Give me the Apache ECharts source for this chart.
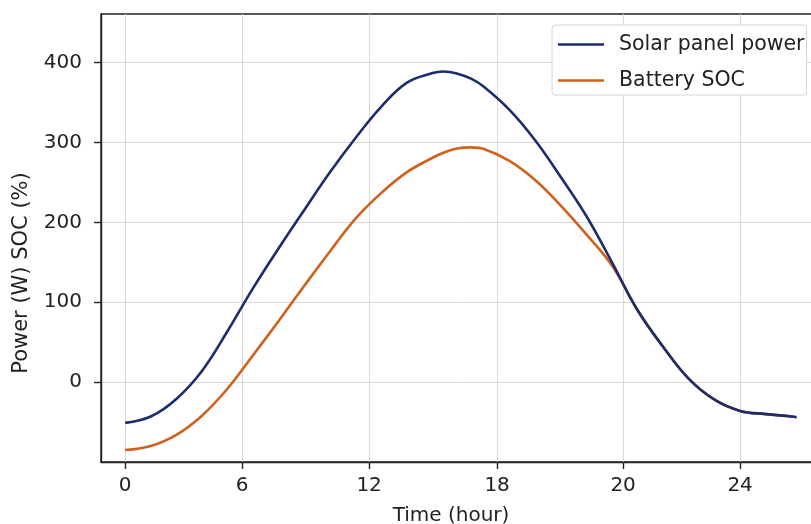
<!DOCTYPE html>
<html>
<head>
<meta charset="utf-8">
<script src="https://cdn.jsdelivr.net/npm/echarts@6/dist/echarts.min.js"></script>
<style>
  html, body { margin: 0; padding: 0; background: #fff; }
  #chart { width: 811px; height: 524px; }
</style>
</head>
<body>
<div id="chart"></div>
<script>
// time positions (axis units)
var timeU = [0, 1, 2, 3, 4, 5, 6, 7, 8, 9, 10, 11, 12, 12.4, 13, 13.5, 14, 15, 16, 17, 18, 19, 20, 21, 22, 23, 24, 25, 26, 26.2]
var solarPower = [-51, -43, -21, 14, 64, 118, 168, 216, 263, 306, 345, 375, 387, 389, 386, 380, 370, 341, 303, 257, 208, 150, 90, 44, 4, -22, -36, -40, -43, -44]
var batterySoc = [-85, -80, -66, -42, -8, 34, 77, 121, 164, 205, 237, 263, 281, 287, 293, 294, 292, 277, 253, 221, 185, 146, 90, 44, 4, -22, -36, -40, -43, -44]

// x ticks sit at uneven spots in the figure
var xTickPos = [0, 4.566, 9.522, 14.517, 19.434, 24]
var xTickLabels = ['0', '6', '12', '18', '20', '24']
var yTicks = [0, 100, 200, 300, 400]

function pairs(xs, ys) {
    var out = []
    for (var i = 0; i < xs.length; i++) {
        out.push([xs[i], ys[i]])
    }
    return out
}

var chart = echarts.init(document.getElementById('chart'))
var font = 'DejaVu Sans'

var option = {
    backgroundColor: '#fff',
    animation: false,
    grid: {
        left: 101,
        top: 14,
        right: -6,
        bottom: 62,
        outerBoundsMode: 'none',
        containLabel: false,
        show: true,
        borderColor: '#222',
        borderWidth: 1.4
    },
    legend: {
        orient: 'vertical',
        left: 552,
        top: 25,
        padding: [9, 2, 4, 6],
        itemGap: 15,
        itemWidth: 46,
        itemHeight: 2.6,
        backgroundColor: '#fff',
        borderColor: '#d6d6d6',
        borderWidth: 1,
        borderRadius: 3,
        textStyle: { fontFamily: font, fontSize: 20.5, lineHeight: 20, color: '#222', padding: [0, 0, 0, 10] },
        data: [
            { name: 'Solar panel power', icon: 'rect' },
            { name: 'Battery SOC', icon: 'rect' }
        ]
    },
    xAxis: {
        type: 'value',
        min: -0.94,
        max: 27.0,
        name: 'Time (hour)',
        nameLocation: 'middle',
        nameGap: 44,
        nameTextStyle: { fontFamily: font, fontSize: 20, color: '#222', padding: [0, 16, 0, 0] },
        axisLine: { show: true, onZero: false, lineStyle: { color: '#222', width: 1.4 } },
        axisTick: { show: true, length: 7, customValues: xTickPos, lineStyle: { color: '#222', width: 1.4 } },
        axisLabel: {
            fontFamily: font, fontSize: 20, color: '#222', margin: 14,
            customValues: xTickPos,
            formatter: function (v) {
                for (var i = 0; i < xTickPos.length; i++) {
                    if (Math.abs(xTickPos[i] - v) < 1e-6) return xTickLabels[i]
                }
                return ''
            }
        },
        splitLine: { show: true, lineStyle: { color: '#d9d9d9', width: 1 } }
    },
    yAxis: {
        type: 'value',
        min: -100,
        max: 461,
        name: 'Power (W) SOC (%)',
        nameLocation: 'middle',
        nameGap: 69,
        nameTextStyle: { fontFamily: font, fontSize: 21, color: '#222', padding: [0, 70, 0, 0] },
        axisLine: { show: true, onZero: false, lineStyle: { color: '#222', width: 1.4 } },
        axisTick: { show: true, length: 7, customValues: yTicks, lineStyle: { color: '#222', width: 1.4 } },
        axisLabel: { fontFamily: font, fontSize: 20, color: '#222', margin: 19, customValues: yTicks },
        splitLine: { show: true, lineStyle: { color: '#d9d9d9', width: 1 } }
    },
    series: [
        {
            name: 'Solar panel power',
            type: 'line',
            smooth: 0.4,
            symbol: 'none',
            z: 4,
            lineStyle: { color: '#1b2d6b', width: 2.6 },
            itemStyle: { color: '#1b2d6b' },
            data: pairs(timeU, solarPower)
        },
        {
            name: 'Battery SOC',
            type: 'line',
            smooth: 0.4,
            symbol: 'none',
            z: 3,
            lineStyle: { color: '#d0611d', width: 2.6 },
            itemStyle: { color: '#d0611d' },
            data: pairs(timeU, batterySoc)
        }
    ]
}
chart.setOption(option)
</script>
</body>
</html>
